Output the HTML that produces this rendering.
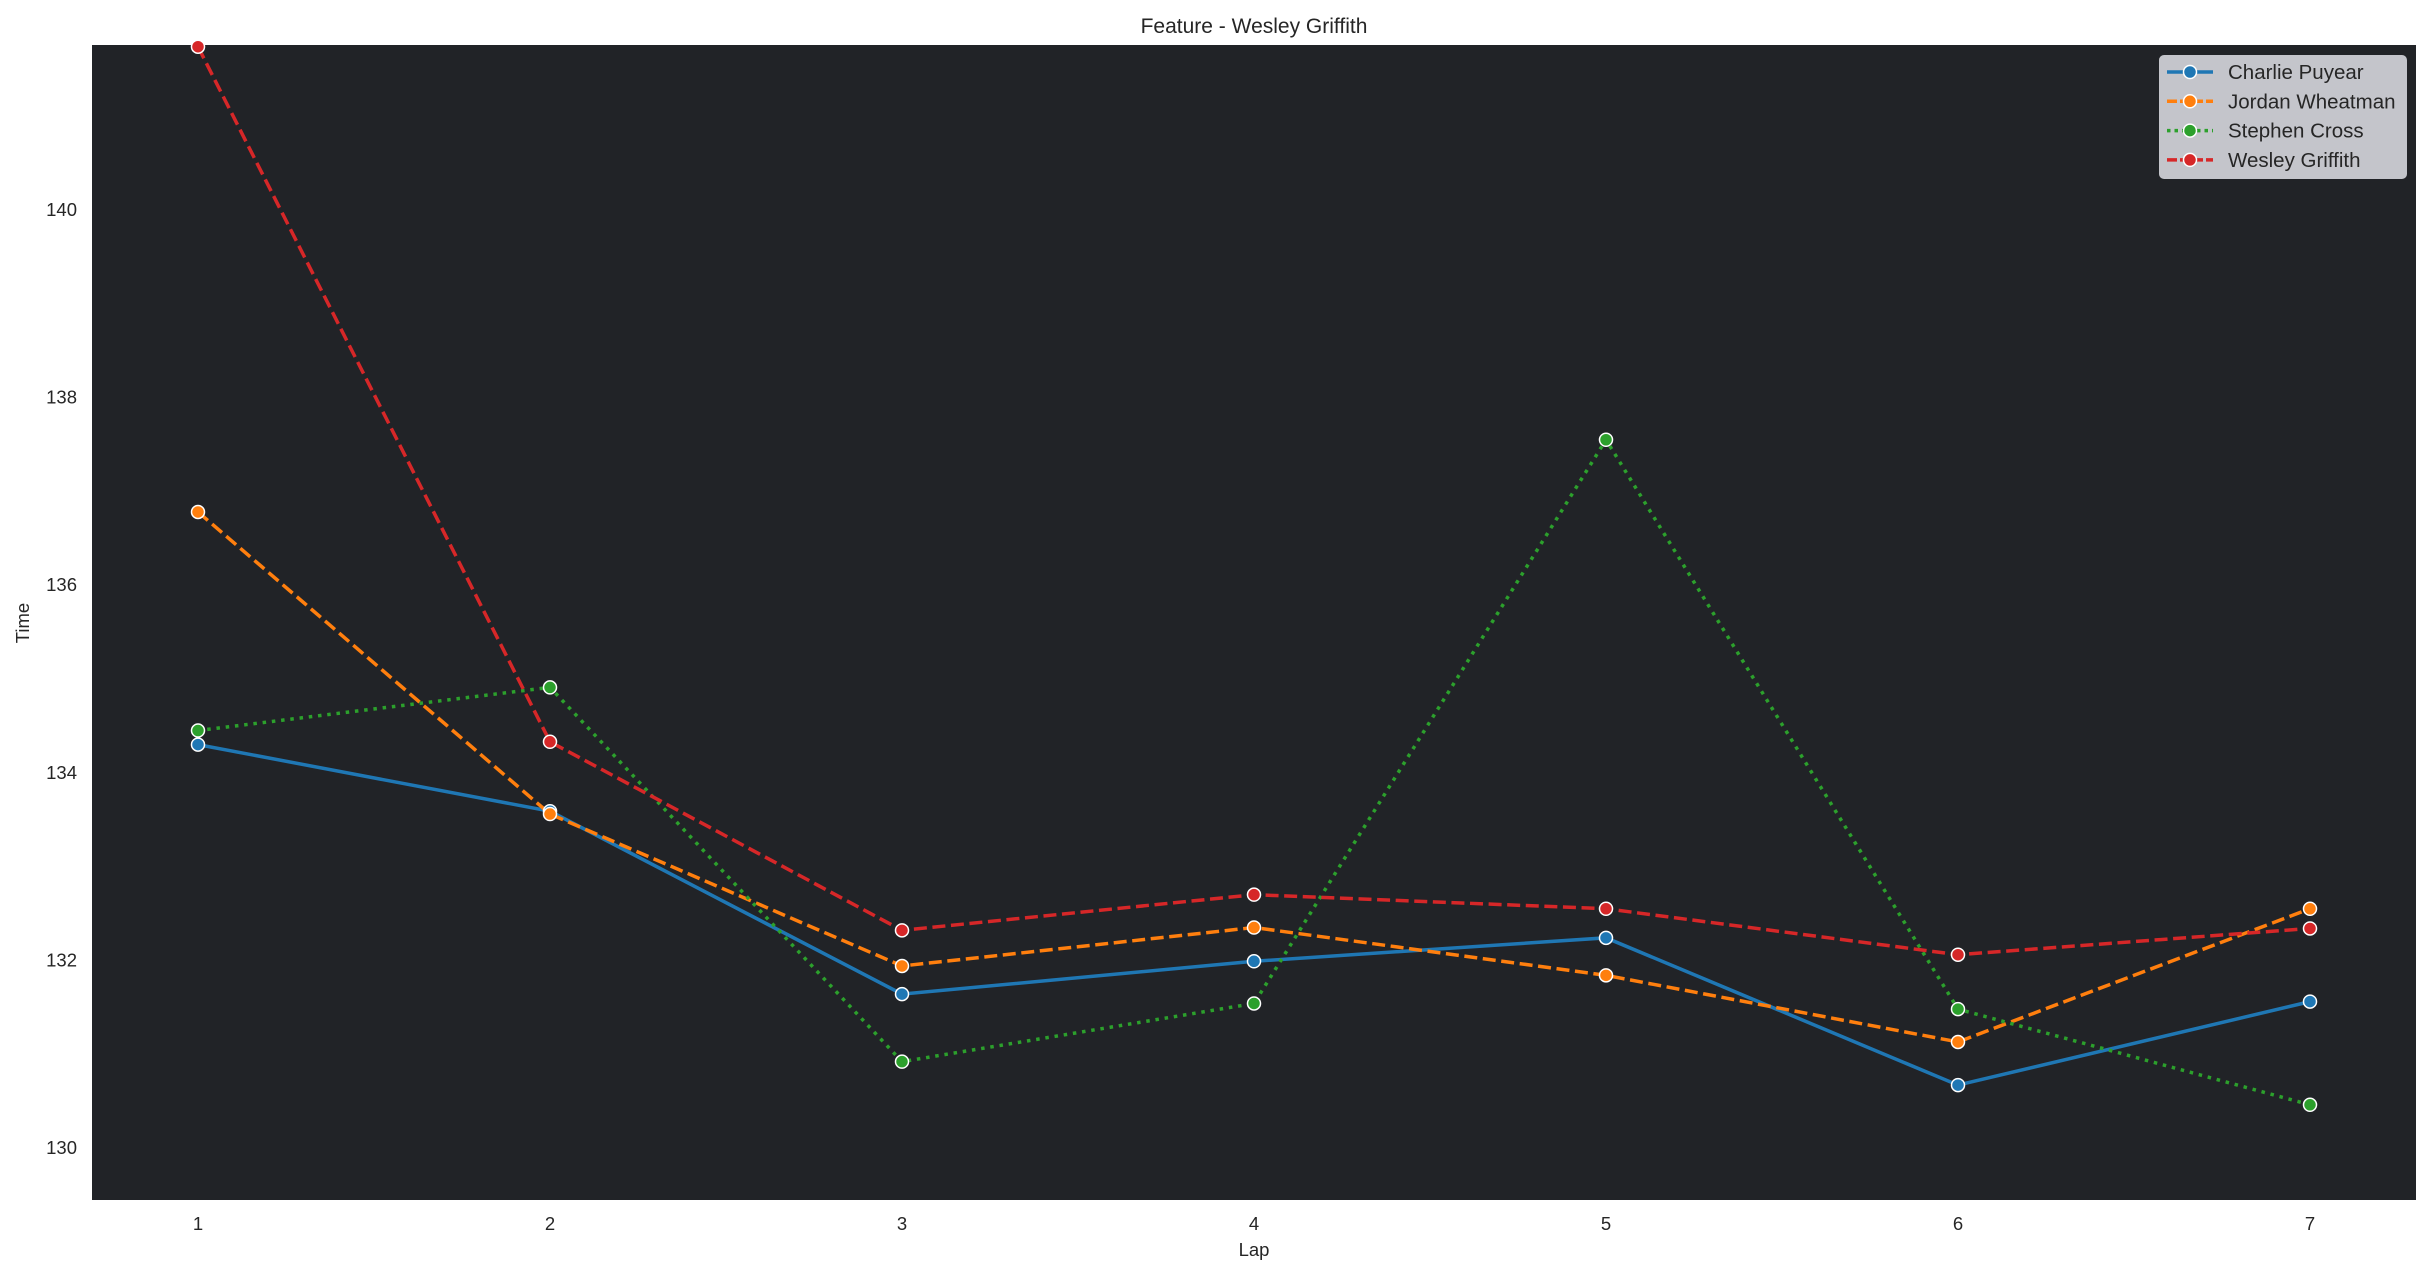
<!DOCTYPE html>
<html><head><meta charset="utf-8"><style>html,body{margin:0;padding:0;background:#fff}svg{display:block}text{font-family:"Liberation Sans",Arial,sans-serif;fill:#262626}</style></head>
<body>
<svg id="s" width="2431" height="1276" xmlns="http://www.w3.org/2000/svg">
<rect x="0" y="0" width="2431" height="1276" fill="#fff"/>
<rect x="92" y="45" width="2324" height="1155" fill="#212327"/>
<text x="1254" y="33" font-size="21" text-anchor="middle">Feature - Wesley Griffith</text>
<text x="1254" y="1256" font-size="18.5" text-anchor="middle">Lap</text>
<text transform="translate(29,623) rotate(-90)" font-size="18.5" text-anchor="middle">Time</text>
<g id="ticks" font-size="18.5"></g>
<g id="lines"></g>
<rect x="2159" y="55" width="248" height="124" rx="5" fill="#c4c5cb"/>
<g id="leg" font-size="20.5"></g>
</svg>
<script>
const ns="http://www.w3.org/2000/svg";
function el(p,t,a,txt){const e=document.createElementNS(ns,t);for(const k in a)e.setAttribute(k,a[k]);if(txt)e.textContent=txt;p.appendChild(e);return e;}
const X=i=>198+(i-1)*352, Y=v=>1147-(v-130)*93.8;
const T=document.getElementById('ticks');
for(let v=130;v<=140;v+=2)el(T,'text',{x:77,y:Y(v)+7,'text-anchor':'end'},String(v));
for(let i=1;i<=7;i++)el(T,'text',{x:X(i),y:1230,'text-anchor':'middle'},String(i));
const S=[
["Charlie Puyear","#1f77b4","#3a8fd0",null,[134.29,133.58,131.63,131.98,132.23,130.66,131.55]],
["Jordan Wheatman","#ff7f0e","#ff8c1f","13 5.6",[136.77,133.55,131.93,132.34,131.83,131.12,132.54]],
["Stephen Cross","#2ca02c","#3cb43c","3.5 5.8",[134.44,134.90,130.91,131.53,137.54,131.47,130.45]],
["Wesley Griffith","#d62728","#e03030","13 5.6",[141.73,134.32,132.31,132.69,132.54,132.05,132.33]]];
const L=document.getElementById('lines'),G=document.getElementById('leg');
S.forEach((s,k)=>{
 const pts=s[4].map((v,i)=>X(i+1)+","+Y(v)).join(" ");
 const a={points:pts,fill:"none",stroke:s[1],'stroke-width':3.5};
 if(s[3])a['stroke-dasharray']=s[3];
 el(L,'polyline',a);
});
S.forEach(s=>{s[4].forEach((v,i)=>el(L,'circle',{cx:X(i+1),cy:Y(v),r:6.5,fill:s[1],stroke:"#fff",'stroke-width':1.5}));});
S.forEach((s,k)=>{
 const y=72+k*29.3;
 const a={x1:2167,x2:2213,y1:y,y2:y,stroke:s[1],'stroke-width':3.5};
 if(s[3])a['stroke-dasharray']=s[3]==="3.5 5.8"?"3.5 4":"10 3";
 el(G,'line',a);
 el(G,'circle',{cx:2190,cy:y,r:6.5,fill:s[1],stroke:"#fff",'stroke-width':1.5});
 el(G,'text',{x:2228,y:y+7},s[0]);
});
</script>
</body></html>
